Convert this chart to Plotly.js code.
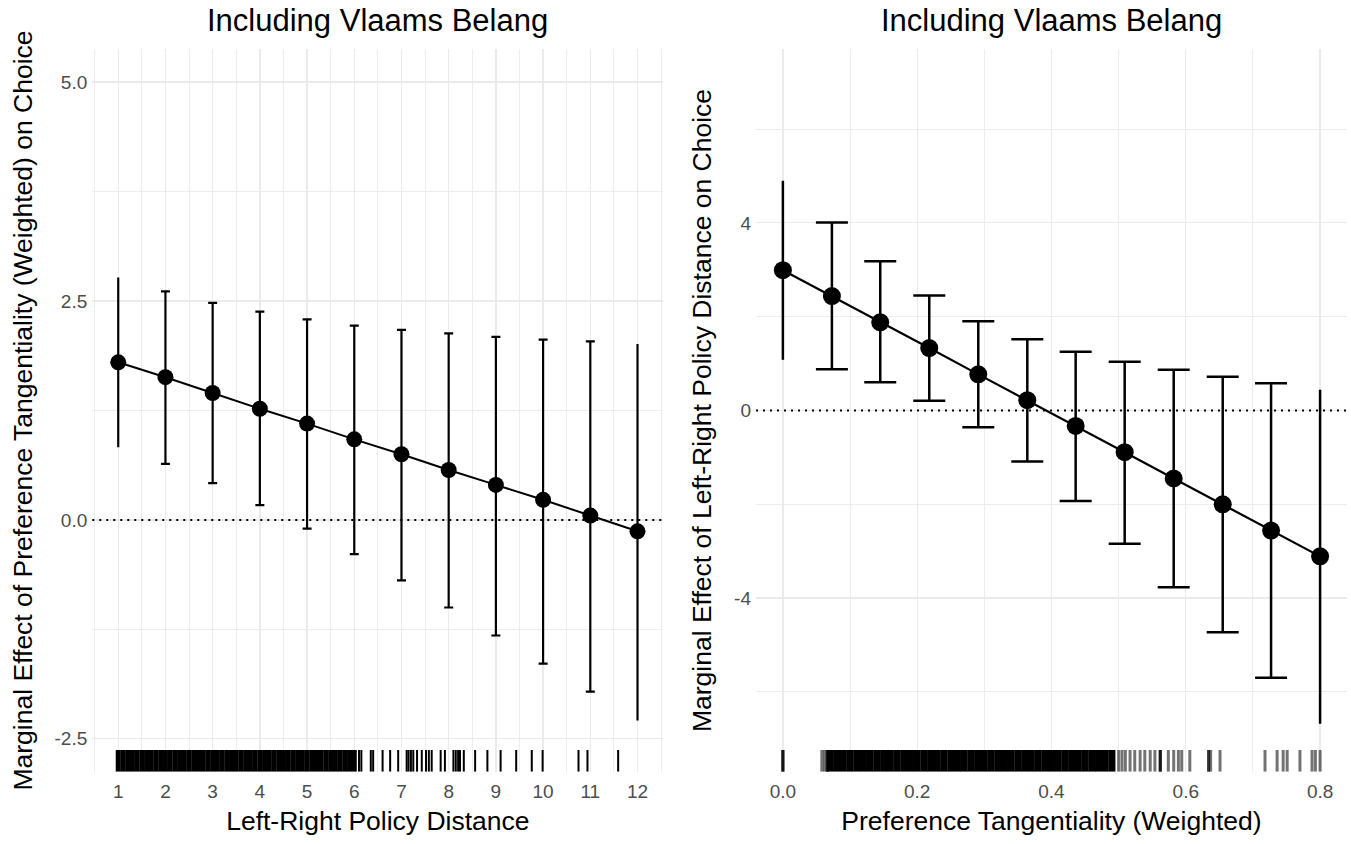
<!DOCTYPE html>
<html>
<head>
<meta charset="utf-8">
<script src="https://cdn.plot.ly/plotly-3.0.1.min.js"></script>
<style>
  html, body { margin: 0; padding: 0; background: #ffffff; }
  #chart { width: 1351px; height: 844px; }
</style>
</head>
<body>
<div id="chart"></div>
<script>
// Left panel: marginal effect of preference tangentiality by left-right distance
const lrDistance = [1, 2, 3, 4, 5, 6, 7, 8, 9, 10, 11, 12];
const meTangentiality = [1.80, 1.63, 1.45, 1.27, 1.10, 0.92, 0.75, 0.57, 0.40, 0.23, 0.05, -0.13];
const meTangLow = [0.83, 0.64, 0.42, 0.17, -0.10, -0.39, -0.69, -1.00, -1.32, -1.64, -1.96, -2.29];
const meTangHigh = [2.77, 2.61, 2.48, 2.38, 2.29, 2.22, 2.17, 2.13, 2.09, 2.06, 2.04, 2.01];

// Right panel: marginal effect of left-right distance by preference tangentiality
const tangentiality = [0.000, 0.073, 0.145, 0.218, 0.291, 0.364, 0.436, 0.509, 0.582, 0.655, 0.727, 0.800];
const meDistance = [2.99, 2.44, 1.88, 1.33, 0.77, 0.22, -0.33, -0.89, -1.45, -2.00, -2.56, -3.11];
const meDistLow = [1.08, 0.88, 0.60, 0.21, -0.36, -1.09, -1.93, -2.84, -3.77, -4.73, -5.70, -6.68];
const meDistHigh = [4.90, 4.01, 3.18, 2.45, 1.90, 1.52, 1.25, 1.04, 0.87, 0.72, 0.58, 0.44];

// Observed values of the moderators (rug)
const rugDistanceDense = [1.0, 1.1, 1.2, 1.3, 1.4, 1.5, 1.6, 1.7, 1.8, 1.9, 2.0, 2.1, 2.2, 2.3, 2.4, 2.5,
  2.6, 2.7, 2.8, 2.9, 3.0, 3.1, 3.2, 3.3, 3.4, 3.5, 3.6, 3.7, 3.8, 3.9, 4.0, 4.1, 4.2, 4.3, 4.4,
  4.5, 4.6, 4.7, 4.8, 4.9, 5.0, 5.1, 5.2, 5.3, 5.4, 5.5, 5.6, 5.7, 5.8, 5.9, 6.0];
const rugDistanceSparse = [6.10, 6.15, 6.35, 6.40, 6.60, 6.76, 6.93, 7.11, 7.15, 7.20, 7.25, 7.33, 7.43,
  7.52, 7.58, 7.64, 7.83, 7.92, 8.10, 8.15, 8.20, 8.24, 8.32, 8.56, 8.82, 9.10, 9.43, 9.76, 9.99,
  10.75, 10.94, 11.59];
const rugTangDense = [0.07, 0.08, 0.09, 0.10, 0.11, 0.12, 0.13, 0.14, 0.15, 0.16, 0.17, 0.18, 0.19,
  0.20, 0.21, 0.22, 0.23, 0.24, 0.25, 0.26, 0.27, 0.28, 0.29, 0.30, 0.31, 0.32, 0.33, 0.34, 0.35,
  0.36, 0.37, 0.38, 0.39, 0.40, 0.41, 0.42, 0.43, 0.44, 0.45, 0.46, 0.47, 0.48, 0.49];
const rugTangSparse = [0.000, 0.000, 0.000, 0.058, 0.062, 0.066, 0.066,
  0.500, 0.505, 0.510, 0.517, 0.524, 0.532, 0.539, 0.547, 0.554, 0.562, 0.562, 0.562,
  0.574, 0.582, 0.589, 0.594, 0.606, 0.634, 0.634, 0.637, 0.651,
  0.718, 0.736, 0.745, 0.751, 0.770, 0.788, 0.793, 0.800];

// Axis breaks
const leftXTicks = [1, 2, 3, 4, 5, 6, 7, 8, 9, 10, 11, 12];
const leftXMinor = [0.5, 1.5, 2.5, 3.5, 4.5, 5.5, 6.5, 7.5, 8.5, 9.5, 10.5, 11.5, 12.5];
const leftYTicks = [-2.5, 0, 2.5, 5];
const leftYLabels = ['-2.5', '0.0', '2.5', '5.0'];
const leftYMinor = [-1.25, 1.25, 3.75];
const rightXTicks = [0, 0.2, 0.4, 0.6, 0.8];
const rightXLabels = ['0.0', '0.2', '0.4', '0.6', '0.8'];
const rightXMinor = [0.1, 0.3, 0.5, 0.7];
const rightYTicks = [-4, 0, 4];
const rightYLabels = ['-4', '0', '4'];
const rightYMinor = [-6, -2, 2, 6];

const FONT = 'Liberation Sans, Arial, Helvetica, sans-serif';
const GRID = '#EBEBEB';
const TICKCOL = '#4D4D4D';

// Error bars: capped bars for interior points, plain ranges at the two ends
function errorBars(x, y, lo, hi, idx, xa, ya, capHalf, thick) {
  return {
    type: 'scatter', mode: 'markers', xaxis: xa, yaxis: ya,
    x: idx.map(i => x[i]), y: idx.map(i => y[i]),
    marker: { color: 'rgba(0,0,0,0)', size: 1 },
    error_y: {
      type: 'data', symmetric: false, visible: true,
      array: idx.map(i => hi[i] - y[i]),
      arrayminus: idx.map(i => y[i] - lo[i]),
      color: '#000000', thickness: thick, width: capHalf
    },
    hoverinfo: 'skip', showlegend: false
  };
}

function estimateLine(x, y, xa, ya, size, lw) {
  return {
    type: 'scatter', mode: 'lines+markers', xaxis: xa, yaxis: ya, x: x, y: y,
    line: { color: '#000000', width: lw },
    marker: { color: '#000000', size: size },
    showlegend: false
  };
}

// Rug marks live on a 0-1 overlay axis so their length is a fixed share of the panel
const RUG_FRAC = 0.03;
const PANEL_PX = 722;
const rugSize = RUG_FRAC * PANEL_PX / 1.4;
function rug(xs, xa, ya, color, width) {
  return {
    type: 'scatter', mode: 'markers', xaxis: xa, yaxis: ya,
    x: xs, y: xs.map(() => RUG_FRAC / 2),
    marker: { symbol: 'line-ns-open', size: rugSize, color: color, line: { width: width } },
    hoverinfo: 'x', showlegend: false
  };
}

const idxAll = lrDistance.map((_, i) => i);
const inner = idxAll.slice(1, -1);
const ends = [0, idxAll.length - 1];

const data = [
  rug(rugDistanceDense, 'x', 'y3', '#000000', 5),
  rug(rugDistanceSparse, 'x', 'y3', '#000000', 2),
  rug(rugTangDense, 'x2', 'y4', '#000000', 7),
  rug(rugTangSparse, 'x2', 'y4', 'rgba(0,0,0,0.55)', 3),
  errorBars(lrDistance, meTangentiality, meTangLow, meTangHigh, inner, 'x', 'y', 4.5, 2.2),
  errorBars(lrDistance, meTangentiality, meTangLow, meTangHigh, ends, 'x', 'y', 0, 2.2),
  estimateLine(lrDistance, meTangentiality, 'x', 'y', 16, 2),
  errorBars(tangentiality, meDistance, meDistLow, meDistHigh, inner, 'x2', 'y2', 16, 2.5),
  errorBars(tangentiality, meDistance, meDistLow, meDistHigh, ends, 'x2', 'y2', 0, 2.5),
  estimateLine(tangentiality, meDistance, 'x2', 'y2', 18, 2.2)
];

const yDom = [0.0857, 0.9416];
const TITLE_SIZE = 26.5;

function xAxis(domain, range, tickvals, ticktext, minor, anchor, title) {
  return {
    domain: domain, range: range, anchor: anchor,
    tickmode: 'array', tickvals: tickvals, ticktext: ticktext,
    showgrid: true, gridcolor: GRID, gridwidth: 1.3,
    minor: { tickmode: 'array', tickvals: minor, showgrid: true, gridcolor: GRID, gridwidth: 0.9, ticks: '' },
    zeroline: false, showline: false, ticks: '', automargin: false,
    ticklabelstandoff: 6,
    tickfont: { family: FONT, size: 19, color: TICKCOL },
    title: { text: title, font: { family: FONT, size: TITLE_SIZE, color: '#000000' }, standoff: 10 },
    fixedrange: true
  };
}
function yAxis(range, tickvals, ticktext, minor, anchor, title) {
  return {
    domain: yDom, range: range, anchor: anchor,
    tickmode: 'array', tickvals: tickvals, ticktext: ticktext,
    showgrid: true, gridcolor: GRID, gridwidth: 1.3,
    minor: { tickmode: 'array', tickvals: minor, showgrid: true, gridcolor: GRID, gridwidth: 0.9, ticks: '' },
    zeroline: false, showline: false, ticks: '', automargin: false,
    ticklabelstandoff: 4,
    tickfont: { family: FONT, size: 19, color: TICKCOL },
    title: { text: title, font: { family: FONT, size: TITLE_SIZE, color: '#000000' }, standoff: 14 },
    fixedrange: true
  };
}

const layout = {
  width: 1351, height: 844,
  margin: { l: 0, r: 0, t: 0, b: 0 },
  paper_bgcolor: '#ffffff', plot_bgcolor: '#ffffff',
  showlegend: false,
  xaxis: xAxis([0.0683, 0.4911], [0.45, 12.55], leftXTicks, leftXTicks.map(String), leftXMinor, 'y',
    'Left-Right Policy Distance'),
  yaxis: yAxis([-2.875, 5.375], leftYTicks, leftYLabels, leftYMinor, 'x',
    'Marginal Effect of Preference Tangentiality (Weighted) on Choice'),
  xaxis2: xAxis([0.5596, 0.9970], [-0.04, 0.84], rightXTicks, rightXLabels, rightXMinor, 'y2',
    'Preference Tangentiality (Weighted)'),
  yaxis2: yAxis([-7.7, 7.7], rightYTicks, rightYLabels, rightYMinor, 'x2',
    'Marginal Effect of Left-Right Policy Distance on Choice'),
  yaxis3: { overlaying: 'y', anchor: 'x', range: [0, 1], visible: false, fixedrange: true },
  yaxis4: { overlaying: 'y2', anchor: 'x2', range: [0, 1], visible: false, fixedrange: true },
  shapes: [
    { type: 'line', xref: 'x domain', x0: 0, x1: 1, yref: 'y', y0: 0, y1: 0,
      line: { color: '#000000', width: 2, dash: '2px,5px' }, layer: 'above' },
    { type: 'line', xref: 'x2 domain', x0: 0, x1: 1, yref: 'y2', y0: 0, y1: 0,
      line: { color: '#000000', width: 2, dash: '2px,5px' }, layer: 'above' }
  ],
  annotations: [
    { text: 'Including Vlaams Belang', xref: 'paper', yref: 'paper', x: 0.2797, y: 0.976,
      xanchor: 'center', yanchor: 'middle', showarrow: false,
      font: { family: FONT, size: 31, color: '#000000' } },
    { text: 'Including Vlaams Belang', xref: 'paper', yref: 'paper', x: 0.7783, y: 0.976,
      xanchor: 'center', yanchor: 'middle', showarrow: false,
      font: { family: FONT, size: 31, color: '#000000' } }
  ]
};

Plotly.newPlot('chart', data, layout, { displayModeBar: false, staticPlot: true });
</script>
</body>
</html>
